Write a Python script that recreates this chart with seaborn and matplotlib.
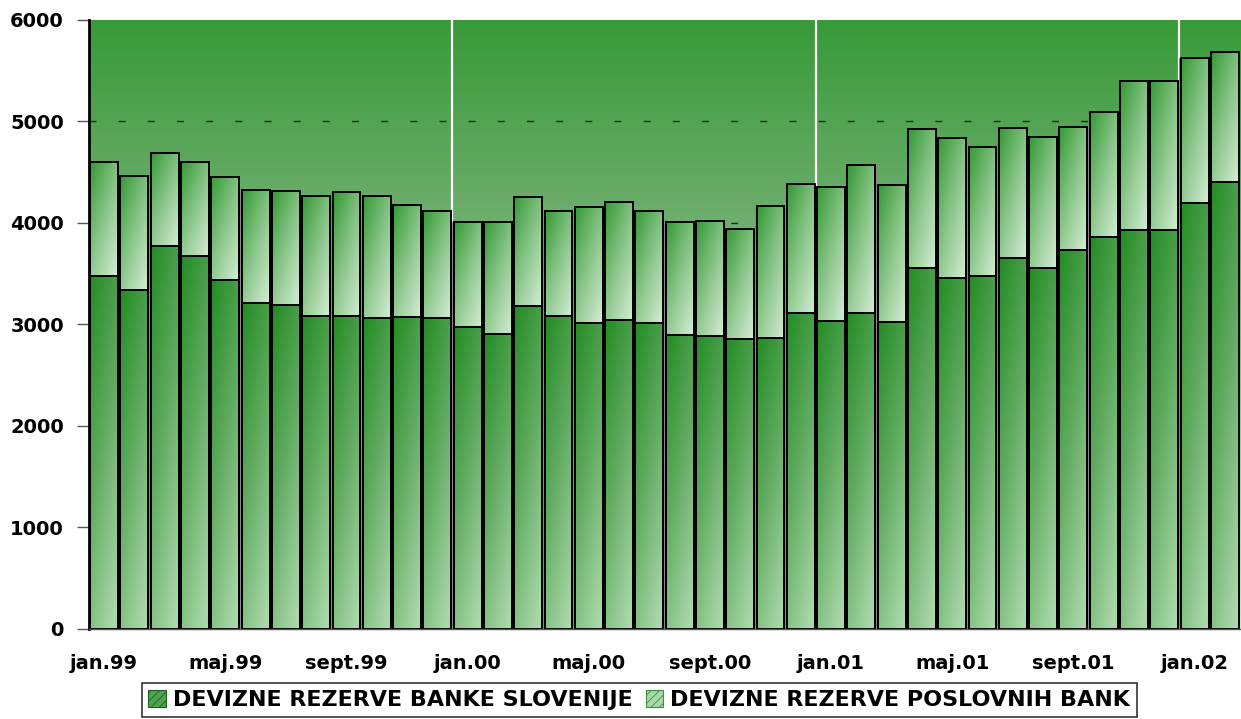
import numpy as np
import pandas as pd
import matplotlib
matplotlib.use("Agg")
import matplotlib.pyplot as plt
from matplotlib.colors import LinearSegmentedColormap
from matplotlib.patches import Patch
import seaborn as sns

# ---- data (mio EUR) ----
months = ["jan.99", "feb.99", "mar.99", "apr.99", "maj.99", "jun.99", "jul.99", "avg.99",
          "sept.99", "okt.99", "nov.99", "dec.99",
          "jan.00", "feb.00", "mar.00", "apr.00", "maj.00", "jun.00", "jul.00", "avg.00",
          "sept.00", "okt.00", "nov.00", "dec.00",
          "jan.01", "feb.01", "mar.01", "apr.01", "maj.01", "jun.01", "jul.01", "avg.01",
          "sept.01", "okt.01", "nov.01", "dec.01",
          "jan.02", "feb.02"]
banka_slovenije = [3478, 3340, 3773, 3675, 3438, 3212, 3192, 3084, 3084, 3064, 3074, 3064,
                   2975, 2906, 3182, 3084, 3015, 3044, 3015, 2897, 2887, 2857, 2867, 3113,
                   3034, 3113, 3025, 3557, 3458, 3478, 3655, 3557, 3734, 3862, 3931, 3931,
                   4197, 4404]
skupaj = [4601, 4463, 4690, 4601, 4453, 4325, 4315, 4266, 4305, 4266, 4177, 4118,
          4010, 4010, 4256, 4118, 4158, 4207, 4118, 4010, 4020, 3941, 4167, 4384,
          4355, 4571, 4374, 4926, 4837, 4749, 4936, 4847, 4946, 5094, 5399, 5399,
          5626, 5685]
poslovne_banke = [t - b for t, b in zip(skupaj, banka_slovenije)]
yticks = [0, 1000, 2000, 3000, 4000, 5000, 6000]
labels = ["DEVIZNE REZERVE BANKE SLOVENIJE", "DEVIZNE REZERVE POSLOVNIH BANK"]

df = pd.DataFrame({"mesec": months, "bs": banka_slovenije, "pb": poslovne_banke})
df["skupaj"] = df["bs"] + df["pb"]

sns.set_theme(style="white")
plt.rcParams["font.family"] = ["DejaVu Sans"]
plt.rcParams["font.weight"] = "bold"
plt.rcParams["text.color"] = "black"
plt.rcParams["hatch.linewidth"] = 0.6

fig = plt.figure(figsize=(12.41, 7.19), dpi=100)
ax = fig.add_axes([0.0717, 0.1252, 0.9275, 0.847])

n = len(months)
xlo, xhi = -0.5, n - 0.5

# background gradient (light at bottom, dark green at top)
bg = LinearSegmentedColormap.from_list(
    "bg", [(0.0, "#cfe6cf"), (0.6, "#7ab27a"), (1.0, "#389a38")])
ax.imshow(np.linspace(0, 1, 256).reshape(-1, 1), cmap=bg, origin="lower",
          extent=[xlo, xhi, 0, 6000], aspect="auto", zorder=0, interpolation="bilinear")

# grey shadow behind bars (visible in the gaps)
sns.barplot(data=df, x="mesec", y="skupaj", color="#8a8a8a", width=1.0, saturation=1,
            linewidth=0, errorbar=None, ax=ax, zorder=1.5)
sns.barplot(data=df, x="mesec", y="skupaj", color="#8fc88f", width=0.92,
            edgecolor="black", linewidth=1.4, errorbar=None, ax=ax, zorder=3)
sns.barplot(data=df, x="mesec", y="bs", color="#3a9a3a", width=0.92,
            edgecolor="black", linewidth=1.4, errorbar=None, ax=ax, zorder=3)

cm_up = LinearSegmentedColormap.from_list("up", ["#369a36", "#86c386", "#cdE8cd"])
cm_lo = LinearSegmentedColormap.from_list("lo", ["#248c24", "#62ab62", "#aad8aa"])

uu, vv = np.meshgrid(np.linspace(0, 1, 24), np.linspace(0, 1, 120))
g_up = np.clip(0.45 * uu + 0.6 * vv, 0, 1)  # v: 0 top -> 1 bottom
g_lo = np.clip(0.3 * uu + 0.75 * vv, 0, 1)

tot_patches = list(ax.containers[1])
lo_patches = list(ax.containers[2])
for pt, pl in zip(tot_patches, lo_patches):
    x0, w = pt.get_x(), pt.get_width()
    hl, ht = pl.get_height(), pt.get_height()
    for p, grad, cm, y0, y1, z in ((pt, g_up, cm_up, hl, ht, 2.0), (pl, g_lo, cm_lo, 0, hl, 2.5)):
        im = ax.imshow(grad, cmap=cm, origin="upper", extent=[x0, x0 + w, y0, y1],
                       aspect="auto", zorder=z, interpolation="bilinear", vmin=0, vmax=1)
        im.set_clip_path(p)
        p.set_facecolor("none")
    pt.set_zorder(3)
    pl.set_zorder(3.1)

# grid lines behind bars
for yv in yticks[1:-1]:
    ax.axhline(yv, color="#222222", lw=1.0, dashes=(5, 16), zorder=1)
for xb in [11.5, 23.5, 35.5]:
    ax.axvline(xb, color="white", lw=1.6, zorder=1)

ax.set_xlim(xlo, xhi)
ax.set_ylim(0, 6000)
ax.set_yticks(yticks)
ax.set_yticklabels([str(v) for v in yticks], fontsize=14, fontweight="bold")
ax.set_xticks(range(0, n, 4))
ax.set_xticklabels(months[::4], fontsize=14, fontweight="bold")
ax.set_xticks([-0.5, 11.5, 23.5, 35.5], minor=True)
ax.tick_params(axis="x", which="major", length=0, pad=18, labelcolor="black")
ax.tick_params(axis="x", which="minor", length=7, width=1, color="#555555", direction="out")
ax.tick_params(axis="y", length=9, width=1, color="#555555", direction="out", pad=9,
               left=True, labelcolor="black")
ax.set_xlabel("")
ax.set_ylabel("")

for s in ["top", "right"]:
    ax.spines[s].set_visible(False)
ax.spines["left"].set_color("black")
ax.spines["left"].set_linewidth(2)
ax.spines["left"].set_zorder(5)
ax.spines["bottom"].set_color("#555555")
ax.spines["bottom"].set_linewidth(1)
ax.spines["bottom"].set_zorder(5)

handles = [Patch(facecolor="#4fa34f", edgecolor="#1f5f1f", hatch="////", lw=0.8),
           Patch(facecolor="#a8d8a8", edgecolor="#3f8f3f", hatch="////", lw=0.8)]
leg = fig.legend(handles, labels, loc="upper center", bbox_to_anchor=(0.515, 0.050),
                 ncol=2, frameon=True, fancybox=False, shadow=False,
                 prop={"size": 16, "weight": "bold"}, handlelength=0.8, handleheight=0.8,
                 handletextpad=0.3, columnspacing=0.6, borderpad=0.3, borderaxespad=0)
leg.get_frame().set_edgecolor("black")
leg.get_frame().set_linewidth(1.2)
for t in leg.get_texts():
    t.set_color("black")

fig.savefig("out.png", dpi=100)
